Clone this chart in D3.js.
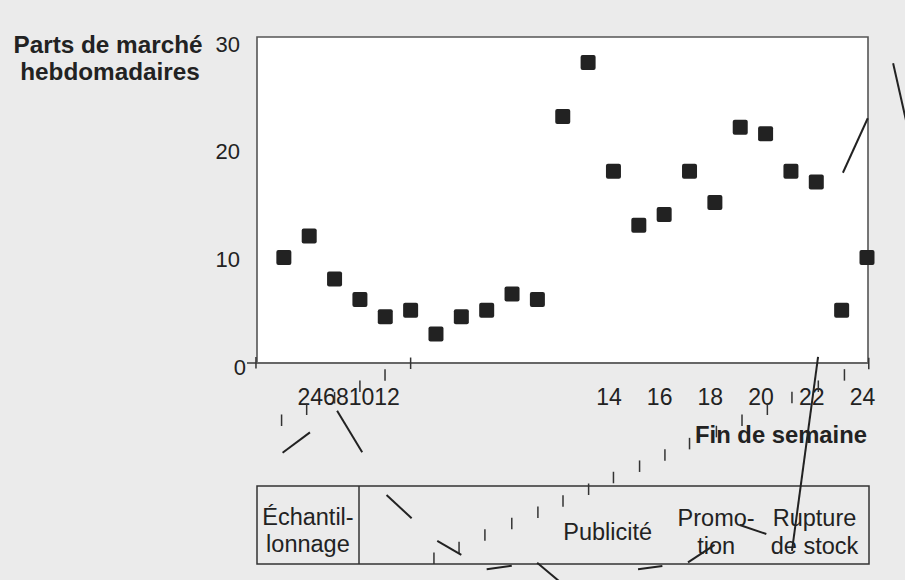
<!DOCTYPE html>
<html><head><meta charset="utf-8">
<script src="https://cdn.jsdelivr.net/npm/d3@7"></script>
<style>
html,body{margin:0;padding:0;background:#ebebeb;}
svg{display:block;font-family:"Liberation Sans",Arial,Helvetica,sans-serif;}
</style></head><body>
<svg id="c" width="905" height="580"></svg>
<script>
// ---- data ----
const weeks = [1,2,3,4,5,6,7,8,9,10,11,12,13,14,15,16,17,18,19,20,21,22,23,24];
const shares = [9.8,11.8,7.8,5.9,4.3,4.9,2.7,4.3,4.9,6.4,5.9,22.9,27.9,17.8,12.8,13.8,17.8,14.9,21.9,21.3,17.8,16.8,4.9,9.8];
const weekTickLabels = [2,4,6,8,10,12,14,16,18,20,22,24];
const shareTicks = [0,10,20,30];
// connector segments (week, share units)
const segStartWeek = [0.95,3.1,5.05,7.05,9.0,10.99,14.97,16.94,18.98,22.07,23.05,25.03];
const segEndWeek   = [2.03,4.09,6.04,8.0,9.99,11.9,15.93,17.99,20.03,21.04,24.03,25.6];
const segStartVal  = [-8.33,-4.43,-12.26,-16.53,-19.16,-18.55,-19.16,-18.51,-15.05,0.56,17.67,27.84];
const segEndVal    = [-6.44,-8.29,-14.42,-17.83,-18.83,-20.35,-18.85,-16.9,-15.88,-17.46,22.73,21.9];
// small stray tick marks (week, base in share units)
const markWeeks = [-0.1,0.91,1.9,3.0,4.0,4.99,6.0,6.92,7.91,8.93,9.99,11.02,12.01,13.02,14.0,15.03,16.03,17.0,18.06,19.07,20.07,21.04,22.08,23.11,24.07];
const markBase  = [-0.5,-5.85,-4.83,-3.76,-2.69,-1.64,-0.56,-18.67,-17.67,-16.5,-15.45,-14.4,-13.35,-12.26,-11.17,-10.12,-9.07,-8.02,-6.9,-5.85,-4.83,-3.74,-2.69,-1.64,-0.59];
const bandNames = [["Échantil-","lonnage"],["Publicité"],["Promo-","tion"],["Rupture","de stock"]];
const bandCenterWeeks = [1.95,13.77,18.05,21.93];
const yTitle = ["Parts de marché","hebdomadaires"];
const xTitle = "Fin de semaine";

// ---- layout ----
const W = 905, H = 580;
const P = {left:257, right:868, top:37, bottom:363};
const svg = d3.select("#c");
const ink = "#222";
const FF = "'Liberation Sans',Arial,sans-serif";

const x = d3.scaleLinear().domain([0,24]).range([258.5,867]);
const y = d3.scaleLinear().domain([0,30]).range([363,40]);

svg.append("rect").attr("width",W).attr("height",H).attr("fill","#ebebeb");
svg.append("rect").attr("x",P.left).attr("y",P.top).attr("width",P.right-P.left).attr("height",P.bottom-P.top).attr("fill","#fff");

// frame
svg.append("path")
  .attr("d",`M${P.left},${P.bottom}V${P.top}H${P.right}V${P.bottom}`)
  .attr("fill","none").attr("stroke","#555").attr("stroke-width",1.6);

// x axis line
svg.append("line").attr("x1",247).attr("x2",P.right).attr("y1",y(0)).attr("y2",y(0))
  .attr("stroke","#666").attr("stroke-width",2);

// y axis labels
const yAxis = svg.append("g").attr("transform",`translate(${P.left},0)`)
  .call(d3.axisLeft(y).tickValues(shareTicks).tickSize(0).tickPadding(17));
yAxis.select(".domain").remove();
yAxis.selectAll("text").attr("font-size",22).attr("fill",ink).attr("dy","0.5em")
  .attr("font-family",FF);
yAxis.selectAll(".tick").filter(d => d === 0).select("text").attr("x",-11);

// x axis labels
const xAxis = svg.append("g").attr("transform",`translate(-5,${y(0)})`)
  .call(d3.axisBottom(x).tickValues(weekTickLabels).tickSize(0).tickPadding(25.5));
xAxis.select(".domain").remove();
xAxis.selectAll("text").attr("font-size",23).attr("fill",ink)
  .attr("font-family",FF);
// crowded early labels packed together
let cursor = 297.5;
xAxis.selectAll(".tick").filter(d => d <= 12).each(function(){
  const t = d3.select(this).select("text");
  d3.select(this).attr("transform",`translate(${cursor+5},0)`);
  t.attr("text-anchor","start").attr("x",0);
  cursor += t.node().getComputedTextLength();
});

// titles
svg.append("text").attr("x",108).attr("y",53).attr("text-anchor","middle")
  .attr("font-size",24.3).attr("font-weight","bold").attr("fill",ink).text(yTitle[0]);
svg.append("text").attr("x",110).attr("y",80).attr("text-anchor","middle")
  .attr("font-size",24.3).attr("font-weight","bold").attr("fill",ink).text(yTitle[1]);
svg.append("text").attr("x",867).attr("y",443).attr("text-anchor","end")
  .attr("font-size",23.8).attr("font-weight","bold").attr("fill",ink).text(xTitle);

// band box
const box = {x:257, y:486, w:612, h:78, split:359};
svg.append("rect").attr("x",box.x).attr("y",box.y).attr("width",box.w).attr("height",box.h)
  .attr("fill","none").attr("stroke","#333").attr("stroke-width",1.5);
svg.append("line").attr("x1",box.split).attr("x2",box.split).attr("y1",box.y).attr("y2",box.y+box.h)
  .attr("stroke","#333").attr("stroke-width",1.5);
const bandBase = [[525,551.5],[540],[526,554],[526,554]];
bandNames.forEach((lines,i) => {
  lines.forEach((ln,j) => {
    svg.append("text").attr("x",x(bandCenterWeeks[i])).attr("y",bandBase[i][j])
      .attr("text-anchor","middle").attr("font-size",23.5).attr("fill",ink).text(ln);
  });
});

// squares
const S = 15;
svg.append("g").selectAll("rect").data(weeks).join("rect")
  .attr("x",(d,i)=>x(d)-S/2).attr("y",(d,i)=>y(shares[i])-S/2)
  .attr("width",S).attr("height",S).attr("rx",2).attr("fill",ink);

// stray tick marks
svg.append("g").selectAll("line").data(markWeeks).join("line")
  .attr("x1",d=>x(d)).attr("x2",d=>x(d))
  .attr("y1",(d,i)=>y(markBase[i])).attr("y2",(d,i)=>y(markBase[i])-11.5)
  .attr("stroke","#333").attr("stroke-width",1.5);

// connector segments
svg.append("g").selectAll("line").data(segStartWeek).join("line")
  .attr("x1",d=>x(d)).attr("y1",(d,i)=>y(segStartVal[i]))
  .attr("x2",(d,i)=>x(segEndWeek[i])).attr("y2",(d,i)=>y(segEndVal[i]))
  .attr("stroke",ink).attr("stroke-width",2);
</script>
</body></html>
